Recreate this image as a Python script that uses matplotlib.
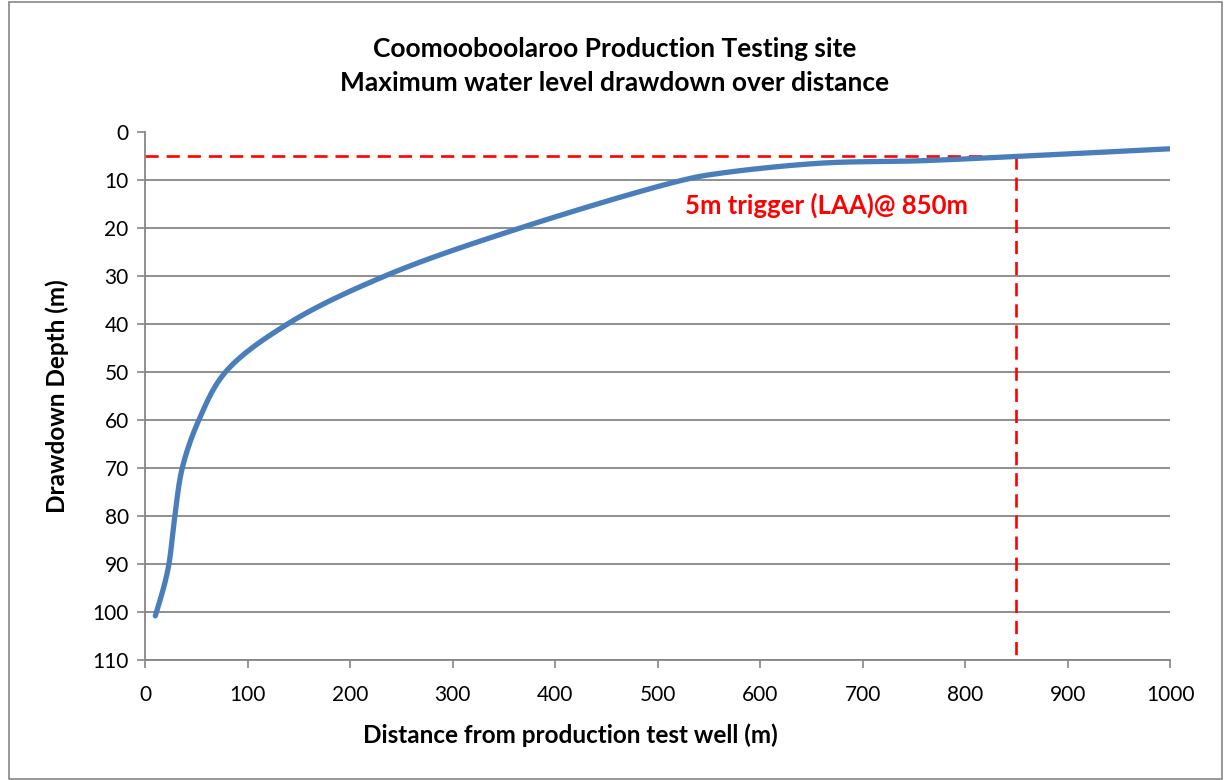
import numpy as np
import matplotlib
matplotlib.use('Agg')
import matplotlib.pyplot as plt
from matplotlib.patches import Rectangle

plt.rcParams['font.family'] = ['Lato', 'DejaVu Sans']

# distance from the production test well (m) and drawdown depth (m)
distance = [10, 18.4, 23.3, 29.1, 36.3, 52.5, 78.5, 139, 234, 366, 525,
            561, 659, 756, 850, 1000]
drawdown = [100.8, 94.7, 90, 80, 70, 60, 50, 40, 30, 20, 10,
            8.6, 6.5, 6.0, 5.1, 3.5]

trigger_dist = 850
trigger_depth = 5
y_ticks = list(range(0, 111, 10))
x_ticks = list(range(0, 1001, 100))


def smooth(xs, ys, n=30):
    """geglaettete Linie wie in Excel (centripetal Catmull-Rom durch die Punkte)"""
    # in etwa Bildschirmverhaeltnis skalieren, damit die Kurve nicht ueberschwingt
    sx, sy = 1000.0, 110.0 * 1025.0 / 528.0
    p = np.column_stack([np.asarray(xs) / sx, np.asarray(ys) / sy])
    p = np.vstack([2 * p[0] - p[1], p, 2 * p[-1] - p[-2]])
    out = []
    for i in range(1, len(p) - 2):
        p0, p1, p2, p3 = p[i - 1], p[i], p[i + 1], p[i + 2]
        t0 = 0.0
        t1 = t0 + np.linalg.norm(p1 - p0) ** 0.5
        t2 = t1 + np.linalg.norm(p2 - p1) ** 0.5
        t3 = t2 + np.linalg.norm(p3 - p2) ** 0.5
        t = np.linspace(t1, t2, n)[:, None]
        a1 = (t1 - t) / (t1 - t0) * p0 + (t - t0) / (t1 - t0) * p1
        a2 = (t2 - t) / (t2 - t1) * p1 + (t - t1) / (t2 - t1) * p2
        a3 = (t3 - t) / (t3 - t2) * p2 + (t - t2) / (t3 - t2) * p3
        b1 = (t2 - t) / (t2 - t0) * a1 + (t - t0) / (t2 - t0) * a2
        b2 = (t3 - t) / (t3 - t1) * a2 + (t - t1) / (t3 - t1) * a3
        c = (t2 - t) / (t2 - t1) * b1 + (t - t1) / (t2 - t1) * b2
        out.append(c if i == 1 else c[1:])
    c = np.vstack(out)
    return c[:, 0] * sx, c[:, 1] * sy


fig = plt.figure(figsize=(12.24, 7.8), dpi=100)
ax = fig.add_axes([0.1185, 0.1538, 0.8375, 0.677])

# Rahmen um das ganze Diagramm
fig.patches.append(Rectangle((0.007, 0.001), 0.991, 0.997, transform=fig.transFigure,
                             fill=False, edgecolor='#868686', linewidth=1.2))

grid_c = '#868686'
for t in y_ticks[1:]:
    ax.axhline(t, color=grid_c, linewidth=1.3, zorder=1)

sx_, sy_ = smooth(distance, drawdown)
ax.plot(sx_, sy_, color='#4A7EBB', linewidth=3.8, solid_capstyle='round', zorder=3)

ax.plot([0, trigger_dist], [trigger_depth, trigger_depth], color='red',
        linewidth=1.9, dashes=(5, 3), zorder=2)
ax.plot([trigger_dist, trigger_dist], [trigger_depth, 110], color='red',
        linewidth=1.9, dashes=(5, 3), zorder=2)
ax.text(665, 15.2, '5m trigger (LAA)@ 850m', color='red', fontsize=18.5,
        fontweight='bold', ha='center', va='center')

ax.set_xlim(0, 1000)
ax.set_ylim(110, 0)
ax.set_xticks(x_ticks)
ax.set_yticks(y_ticks)
ax.tick_params(axis='both', labelsize=15, length=5.8, width=1.2, color=grid_c)
ax.tick_params(axis='x', pad=12)
ax.tick_params(axis='y', pad=6)

for s in ['top', 'right']:
    ax.spines[s].set_visible(False)
for s in ['left', 'bottom']:
    ax.spines[s].set_color(grid_c)
    ax.spines[s].set_linewidth(1.3)

fig.text(0.4657, 0.0577, 'Distance from production test well (m)', fontsize=17.5,
         fontweight='bold', ha='center', va='center')
fig.text(0.0466, 0.492, 'Drawdown Depth (m)', fontsize=17.5, fontweight='bold',
         ha='center', va='center', rotation=90)

fig.text(0.5025, 0.915, 'Coomooboolaroo Production Testing site\nMaximum water level drawdown over distance',
         ha='center', va='center', fontsize=19, fontweight='bold', linespacing=1.5)

plt.savefig('out.png', dpi=100)
